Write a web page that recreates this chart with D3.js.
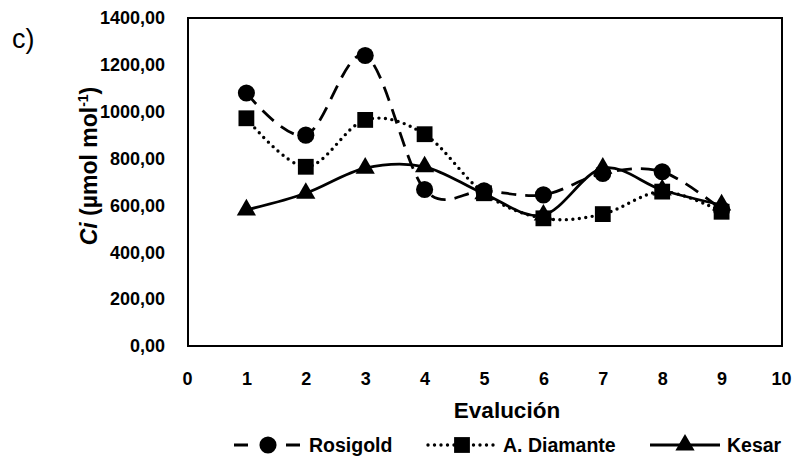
<!DOCTYPE html>
<html>
<head>
<meta charset="utf-8">
<script src="https://cdn.jsdelivr.net/npm/d3@7"></script>
<style>
  html, body { margin: 0; padding: 0; background: #fff; }
  svg { display: block; }
  text { font-family: "Liberation Sans", Arial, sans-serif; fill: #000; }
</style>
</head>
<body>
<svg id="chart" width="799" height="461"></svg>
<script>
// ---- data ----
const evaluations = [1, 2, 3, 4, 5, 6, 7, 8, 9];
const rosigold    = [1080, 900, 1240, 668, 662, 645, 737, 744, 582];
const aDiamante   = [972, 765, 965, 904, 652, 545, 563, 659, 573];
const kesar       = [581, 652, 759, 765, 650, 559, 759, 666, 602];
const seriesNames = ["Rosigold", "A. Diamante", "Kesar"];
const xTicks = [0, 1, 2, 3, 4, 5, 6, 7, 8, 9, 10];
const yTicks = [0, 200, 400, 600, 800, 1000, 1200, 1400];

// ---- layout ----
const svg = d3.select("#chart");
const plot = { left: 188, right: 782, top: 18, bottom: 346 };

const x = d3.scaleLinear().domain([0, 10]).range([plot.left - 1, plot.right - 1]);
const y = d3.scaleLinear().domain([0, 1400]).range([plot.bottom, plot.top]);

const fmt = v => d3.format(".2f")(v).replace(".", ",");

// frame
svg.append("rect")
  .attr("x", plot.left).attr("y", plot.top)
  .attr("width", plot.right - plot.left).attr("height", plot.bottom - plot.top)
  .attr("fill", "none").attr("stroke", "#000").attr("stroke-width", 2);

// y axis labels
const yAxis = d3.axisLeft(y).tickValues(yTicks).tickSize(0).tickPadding(0).tickFormat(fmt);
const gy = svg.append("g").attr("transform", `translate(${plot.left - 23},0)`).call(yAxis);
gy.select(".domain").remove();
gy.selectAll("text").attr("font-family", "Liberation Sans, Arial, sans-serif")
  .attr("font-size", 18).attr("font-weight", "bold").attr("fill", "#000");

// x axis labels
const xAxis = d3.axisBottom(x).tickValues(xTicks).tickSize(0).tickPadding(0).tickFormat(d3.format("d"));
const gx = svg.append("g").attr("transform", `translate(0,${plot.bottom + 26})`).call(xAxis);
gx.select(".domain").remove();
gx.selectAll("text").attr("font-family", "Liberation Sans, Arial, sans-serif")
  .attr("font-size", 18).attr("font-weight", "bold").attr("fill", "#000").attr("dy", "0.71em");

// titles
svg.append("text").attr("x", 507).attr("y", 418).attr("text-anchor", "middle")
  .attr("font-size", 22.5).attr("font-weight", "bold").text("Evalución");

const yt = svg.append("text")
  .attr("transform", "translate(97,166) rotate(-90)")
  .attr("text-anchor", "middle").attr("font-size", 23).attr("font-weight", "bold");
yt.append("tspan").attr("font-style", "italic").text("Ci");
yt.append("tspan").text(" (µmol mol");
yt.append("tspan").attr("font-size", 14).attr("dy", -9).text("-1");
yt.append("tspan").attr("dy", 9).text(")");

svg.append("text").attr("x", 12).attr("y", 48).attr("font-size", 27).text("c)");

// ---- series ----
const styles = [
  { data: rosigold,  dash: "15,9",  legDash: "14,38", cap: "butt",  width: 2.8, marker: d3.symbolCircle,   size: 230 },
  { data: aDiamante, dash: "0,6.5", legDash: "0,6.5", cap: "round", width: 3.4, marker: d3.symbolSquare,   size: 250 },
  { data: kesar,     dash: null,    legDash: null,    cap: "butt",  width: 2.8, marker: d3.symbolTriangle, size: 160 }
];

const line = d3.line()
  .x((d, i) => x(evaluations[i]))
  .y(d => y(d))
  .curve(d3.curveCardinal.tension(0));

styles.forEach(s => {
  svg.append("path").datum(s.data)
    .attr("d", line).attr("fill", "none").attr("stroke", "#000")
    .attr("stroke-width", s.width).attr("stroke-linecap", s.cap)
    .attr("stroke-dasharray", s.dash);
});

[2, 1, 0].forEach(k => {
  const s = styles[k];
  svg.append("g").selectAll("path").data(s.data).join("path")
    .attr("transform", (d, i) => `translate(${x(evaluations[i])},${y(d)})`)
    .attr("d", d3.symbol().type(s.marker).size(s.size))
    .attr("fill", "#000");
});

// ---- legend ----
const legendY = 445;
const legendItems = [
  { x0: 234, x1: 300, mx: 268, tx: 309 },
  { x0: 428, x1: 497, mx: 462, tx: 503 },
  { x0: 650, x1: 720, mx: 685, tx: 727 }
];
legendItems.forEach((li, k) => {
  const s = styles[k];
  const g = svg.append("g");
  g.append("line").attr("x1", li.x0).attr("x2", li.x1)
    .attr("y1", legendY).attr("y2", legendY)
    .attr("stroke", "#000").attr("stroke-width", s.width)
    .attr("stroke-linecap", s.cap).attr("stroke-dasharray", s.legDash);
  g.append("path").attr("transform", `translate(${li.mx},${legendY})`)
    .attr("d", d3.symbol().type(s.marker).size(s.size)).attr("fill", "#000");
  g.append("text").attr("x", li.tx).attr("y", legendY + 7)
    .attr("font-size", 19.5).attr("font-weight", "bold").text(seriesNames[k]);
});
</script>
</body>
</html>
